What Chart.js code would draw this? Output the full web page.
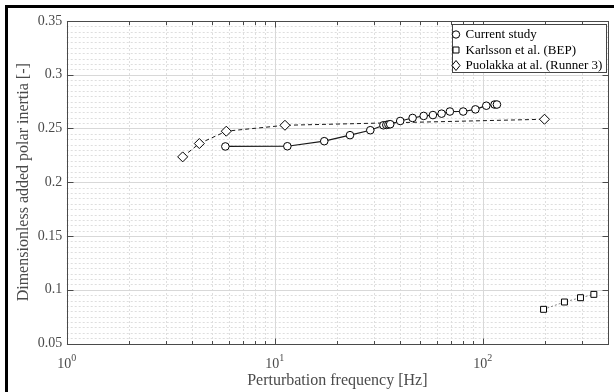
<!DOCTYPE html>
<html>
<head>
<meta charset="utf-8">
<script src="https://cdn.jsdelivr.net/npm/chart.js@4.4.1/dist/chart.umd.min.js"></script>
<style>
  html, body { margin: 0; padding: 0; background: #fff; }
  canvas { display: block; }
</style>
</head>
<body>
<canvas id="inertiaChart" width="614" height="392"></canvas>
<script>
const serif = "'Liberation Serif', 'Times New Roman', serif";

// Current study
const currentFreq = [5.79, 11.5, 17.3, 23.0, 28.8, 33.3, 34.4, 35.2, 35.9, 40.1,
                     46.0, 52.0, 57.6, 63.4, 69.5, 80.5, 92.2, 104, 114, 117];
const currentInertia = [0.2333, 0.2335, 0.2382, 0.2438, 0.2484, 0.2530, 0.2533, 0.2537, 0.2540, 0.2570,
                        0.2598, 0.2617, 0.2625, 0.2638, 0.2658, 0.2658, 0.2678, 0.2712, 0.2723, 0.2723];

// Karlsson et al. (BEP)
const karlssonFreq = [196, 247, 295, 342];
const karlssonInertia = [0.0818, 0.0886, 0.0926, 0.0957];

// Puolakka et al. (Runner 3)
const puolakkaFreq = [3.61, 4.34, 5.85, 11.2, 198];
const puolakkaInertia = [0.2236, 0.2360, 0.2475, 0.2530, 0.2586];

const yTicks = [0.05, 0.1, 0.15, 0.2, 0.25, 0.3, 0.35];
const yTickLabels = ['0.05', '0.1', '0.15', '0.2', '0.25', '0.3', '0.35'];
const xTicks = [1, 10, 100];
const xTickExponents = ['0', '1', '2'];
const xMin = 1, xMax = 400;

const toPoints = (xs, ys) => xs.map((x, i) => ({ x: x, y: ys[i] }));

function drawMarker(ctx, style, x, y) {
  ctx.beginPath();
  if (style === 'circle') {
    ctx.arc(x, y, 3.7, 0, Math.PI * 2);
  } else if (style === 'rect') {
    ctx.rect(x - 3, y - 3, 6, 6);
  } else {
    ctx.moveTo(x, y - 5);
    ctx.lineTo(x + 4, y);
    ctx.lineTo(x, y + 5);
    ctx.lineTo(x - 4, y);
    ctx.closePath();
  }
  ctx.fill();
  ctx.stroke();
}

const axesDecor = {
  id: 'axesDecor',
  beforeDraw(chart) {
    const { ctx, width, height } = chart;
    ctx.save();
    ctx.fillStyle = '#fff';
    ctx.fillRect(0, 0, width, height);
    ctx.fillStyle = '#000';
    ctx.fillRect(5, 5, width - 5, 3);
    ctx.fillRect(5, 5, 3, height - 5);
    ctx.restore();
  },
  beforeDatasetsDraw(chart) {
    const { ctx, chartArea: a, scales: { x, y } } = chart;
    const crisp = v => Math.round(v) + 0.5;
    ctx.save();
    ctx.lineWidth = 1;

    // minor grid, dotted
    ctx.strokeStyle = '#dedede';
    ctx.setLineDash([2, 2]);
    ctx.beginPath();
    for (let d = 1; d < xMax; d *= 10) {
      for (let k = 2; k <= 9; k++) {
        const v = k * d;
        if (v >= xMax) break;
        const px = crisp(x.getPixelForValue(v));
        ctx.moveTo(px, a.top);
        ctx.lineTo(px, a.bottom);
      }
    }
    for (let i = 11; i < 70; i++) {
      if (i % 10 === 0) continue;
      const py = crisp(y.getPixelForValue(i * 0.005));
      ctx.moveTo(a.left, py);
      ctx.lineTo(a.right, py);
    }
    ctx.stroke();

    // major grid
    ctx.setLineDash([]);
    ctx.strokeStyle = '#d8d8d8';
    ctx.beginPath();
    xTicks.forEach(v => {
      const px = crisp(x.getPixelForValue(v));
      ctx.moveTo(px, a.top);
      ctx.lineTo(px, a.bottom);
    });
    yTicks.forEach(v => {
      const py = crisp(y.getPixelForValue(v));
      ctx.moveTo(a.left, py);
      ctx.lineTo(a.right, py);
    });
    ctx.stroke();

    // axes box and inward ticks
    ctx.strokeStyle = '#4a4a4a';
    const l = crisp(a.left), r = crisp(a.right), t = crisp(a.top), b = crisp(a.bottom);
    ctx.strokeRect(l, t, r - l, b - t);
    ctx.beginPath();
    for (let d = 1; d < xMax; d *= 10) {
      for (let k = 1; k <= 9; k++) {
        const v = k * d;
        if (v >= xMax) break;
        const len = k === 1 ? 6 : 3.5;
        const px = crisp(x.getPixelForValue(v));
        ctx.moveTo(px, b);
        ctx.lineTo(px, b - len);
        ctx.moveTo(px, t);
        ctx.lineTo(px, t + len);
      }
    }
    yTicks.forEach(v => {
      const py = crisp(y.getPixelForValue(v));
      ctx.moveTo(l, py);
      ctx.lineTo(l + 6, py);
      ctx.moveTo(r, py);
      ctx.lineTo(r - 6, py);
    });
    ctx.stroke();
    ctx.restore();
  },
  afterDraw(chart) {
    const { ctx, scales: { x } } = chart;
    ctx.save();

    // x tick labels as powers of ten
    ctx.fillStyle = '#4a4a4a';
    ctx.textBaseline = 'alphabetic';
    xTicks.forEach((v, i) => {
      ctx.font = '14px ' + serif;
      const wBase = ctx.measureText('10').width;
      ctx.font = '10px ' + serif;
      const wExp = ctx.measureText(xTickExponents[i]).width;
      const start = x.getPixelForValue(v) - (wBase + wExp) / 2;
      ctx.font = '14px ' + serif;
      ctx.fillText('10', start, 368);
      ctx.font = '10px ' + serif;
      ctx.fillText(xTickExponents[i], start + wBase, 360.5);
    });

    // legend box in the top right corner
    const box = { left: 452.5, top: 24.5, width: 154, height: 48 };
    ctx.fillStyle = '#fff';
    ctx.fillRect(box.left, box.top, box.width, box.height);
    ctx.strokeStyle = '#444';
    ctx.lineWidth = 1;
    ctx.strokeRect(box.left, box.top, box.width, box.height);
    const rows = [34.5, 50, 65.5];
    chart.data.datasets.forEach((ds, i) => {
      const ry = rows[i];
      ctx.strokeStyle = ds.borderColor;
      ctx.lineWidth = ds.borderWidth;
      ctx.setLineDash([]);
      ctx.beginPath();
      ctx.moveTo(453, ry);
      ctx.lineTo(459, ry);
      ctx.stroke();
      ctx.strokeStyle = '#000';
      ctx.lineWidth = 1;
      ctx.fillStyle = '#fff';
      drawMarker(ctx, ds.pointStyle, 456, ry);
      ctx.fillStyle = '#000';
      ctx.font = '13px ' + serif;
      ctx.textBaseline = 'middle';
      ctx.fillText(ds.label, 465.5, ry + 0.5);
    });
    ctx.restore();
  }
};

new Chart(document.getElementById('inertiaChart'), {
  type: 'line',
  data: {
    datasets: [
      {
        label: 'Current study',
        data: toPoints(currentFreq, currentInertia),
        borderColor: '#1a1a1a',
        borderWidth: 1.2,
        pointStyle: 'circle',
        pointRadius: 3.8,
        pointBorderWidth: 1,
        pointBorderColor: '#000',
        pointBackgroundColor: '#fff'
      },
      {
        label: 'Karlsson et al. (BEP)',
        data: toPoints(karlssonFreq, karlssonInertia),
        borderColor: '#666',
        borderWidth: 0.8,
        borderDash: [2, 2],
        pointStyle: 'rect',
        pointRadius: 4.2,
        pointBorderWidth: 1,
        pointBorderColor: '#000',
        pointBackgroundColor: '#fff'
      },
      {
        label: 'Puolakka at al. (Runner 3)',
        data: toPoints(puolakkaFreq, puolakkaInertia),
        borderColor: '#1a1a1a',
        borderWidth: 1,
        borderDash: [4, 3],
        pointStyle: 'rectRot',
        pointRadius: 5,
        pointBorderWidth: 1,
        pointBorderColor: '#000',
        pointBackgroundColor: '#fff'
      }
    ]
  },
  options: {
    responsive: false,
    animation: false,
    layout: { padding: { top: 21, right: 4, left: 0, bottom: 0 } },
    plugins: { legend: { display: false }, tooltip: { enabled: false } },
    scales: {
      x: {
        type: 'logarithmic',
        min: xMin,
        max: xMax,
        grid: { display: false, drawTicks: false },
        border: { display: false },
        ticks: { display: false },
        afterFit: s => { s.height = 48.5; },
        title: {
          display: true,
          text: 'Perturbation frequency [Hz]',
          color: '#4a4a4a',
          font: { family: serif, size: 16 },
          padding: { top: 0, bottom: 2 }
        }
      },
      y: {
        min: 0.05,
        max: 0.35,
        grid: { display: false, drawTicks: false },
        border: { display: false },
        afterBuildTicks: s => { s.ticks = yTicks.map(v => ({ value: v })); },
        afterFit: s => { s.width = 66.7; },
        ticks: {
          padding: 4.5,
          color: '#4a4a4a',
          font: { family: serif, size: 14 },
          callback: (v, i) => yTickLabels[i]
        },
        title: {
          display: true,
          text: 'Dimensionless added polar inertia [-]',
          color: '#4a4a4a',
          font: { family: serif, size: 16 },
          padding: { top: 14, bottom: 0 }
        }
      }
    }
  },
  plugins: [axesDecor]
});
</script>
</body>
</html>
